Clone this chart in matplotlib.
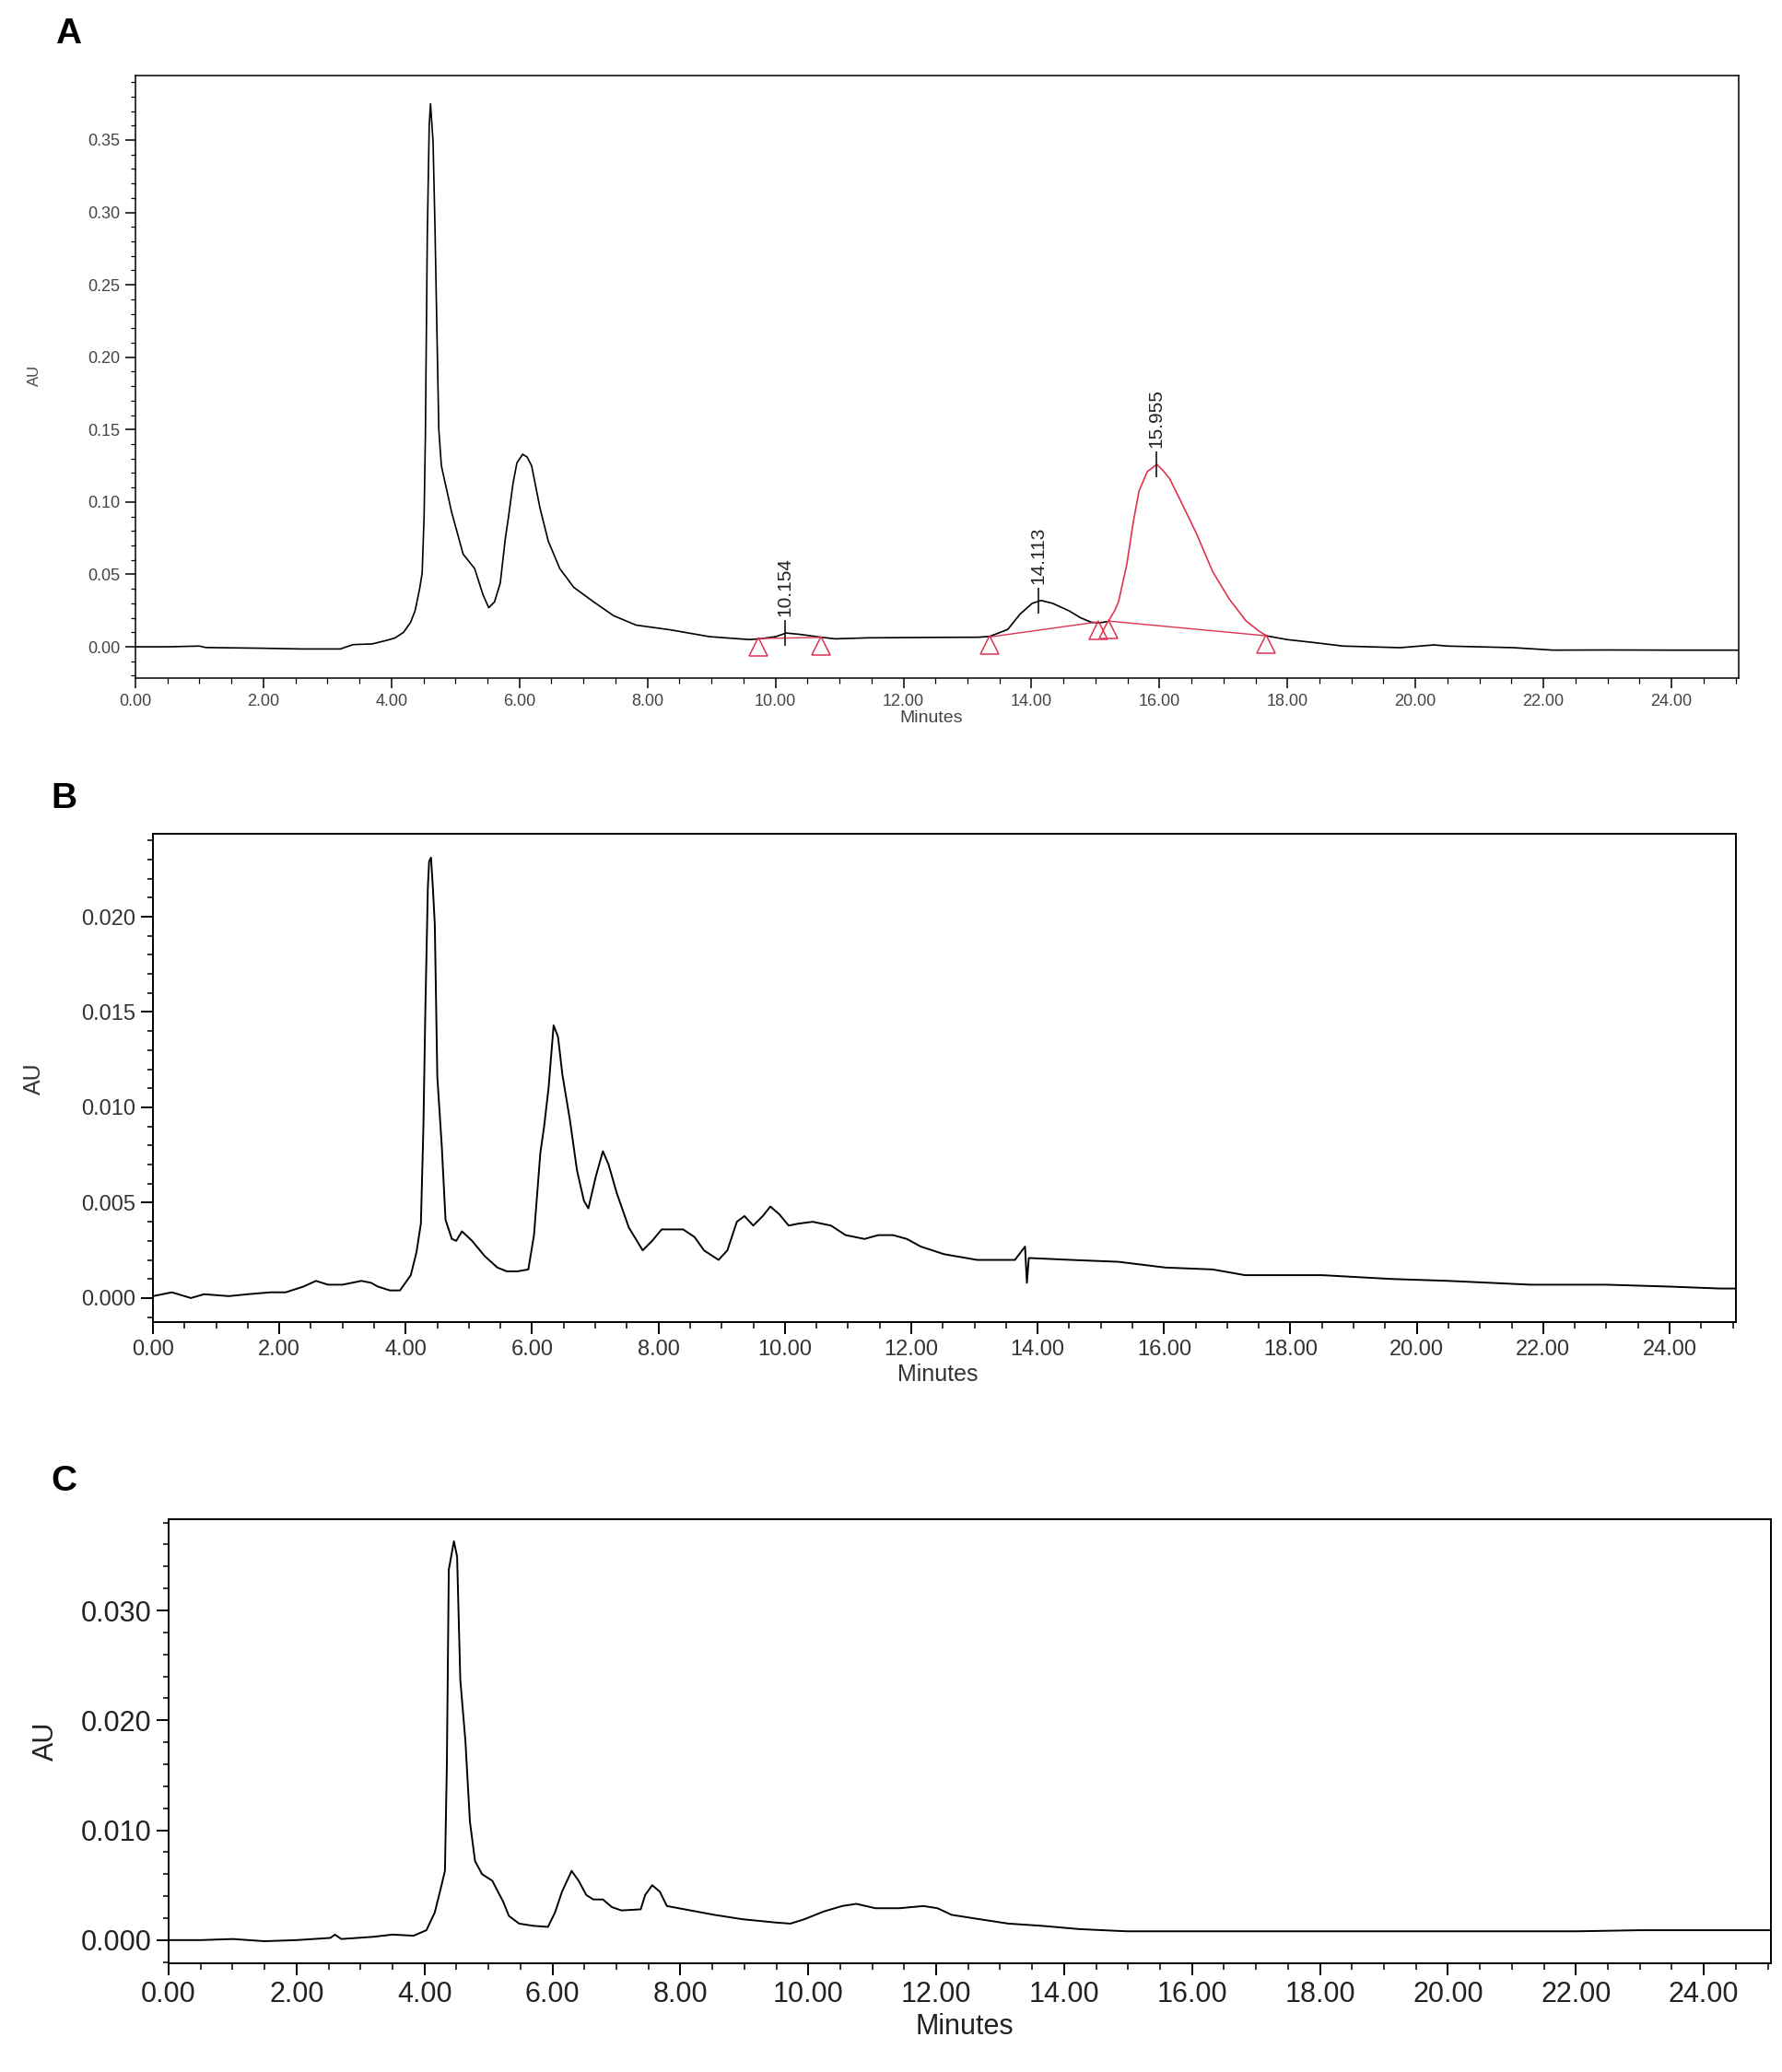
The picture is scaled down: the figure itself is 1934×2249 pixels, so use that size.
"""
Three HPLC chromatograms (A, B, C) stacked vertically, absorbance vs time.
"""

import matplotlib
matplotlib.use("Agg")
import matplotlib.pyplot as plt
from matplotlib.ticker import MultipleLocator, FormatStrFormatter
from matplotlib.transforms import ScaledTranslation

plt.rcParams["font.family"] = ["Liberation Sans", "DejaVu Sans"]

W, H, DPI = 1934, 2249, 100
RED = "#dc3452"

# ---- panel A trace (minutes, AU) ----
a_time = [0.00, 0.50, 1.00, 1.10, 2.00, 2.60, 3.20, 3.40, 3.70, 3.93, 4.05, 4.19,
          4.30, 4.37, 4.44, 4.48, 4.51, 4.53, 4.56, 4.59, 4.61, 4.63, 4.65, 4.68,
          4.71, 4.74, 4.78, 4.81, 4.94, 5.12, 5.30, 5.43, 5.52, 5.61, 5.70, 5.78,
          5.83, 5.90, 5.96, 6.05, 6.12, 6.19, 6.32, 6.45, 6.63, 6.85, 7.16, 7.47,
          7.82, 8.36, 8.97, 9.59, 9.75, 10.00, 10.17, 10.40, 10.73, 10.93, 11.45,
          12.50, 13.17, 13.35, 13.63, 13.82, 14.01, 14.15, 14.33, 14.58, 14.77,
          14.93, 15.05, 15.20]
a_au = [0.0000, 0.0000, 0.0005, -0.0005, -0.0010, -0.0015, -0.0015, 0.0015, 0.0020,
        0.0045, 0.0060, 0.0100, 0.0170, 0.0250, 0.0400, 0.0510, 0.0900, 0.1450,
        0.2840, 0.3600, 0.3750, 0.3620, 0.3490, 0.2900, 0.2190, 0.1500, 0.1250,
        0.1190, 0.0930, 0.0640, 0.0540, 0.0360, 0.0270, 0.0310, 0.0440, 0.0750,
        0.0900, 0.1130, 0.1270, 0.1330, 0.1310, 0.1250, 0.0960, 0.0730, 0.0540,
        0.0410, 0.0310, 0.0215, 0.0150, 0.0117, 0.0070, 0.0050, 0.0055, 0.0070,
        0.0095, 0.0085, 0.0065, 0.0055, 0.0062, 0.0065, 0.0066, 0.0072, 0.0120,
        0.0225, 0.0300, 0.0320, 0.0300, 0.0250, 0.0200, 0.0170, 0.0165, 0.0175]

# integrated peak at 15.955 min (drawn in red)
a_peak_time = [15.20, 15.30, 15.36, 15.49, 15.59, 15.68, 15.81, 15.96, 16.06,
               16.16, 16.35, 16.58, 16.83, 17.09, 17.35, 17.55, 17.67]
a_peak_au = [0.0175, 0.0250, 0.0310, 0.0570, 0.0860, 0.1075, 0.1210, 0.1260,
             0.1215, 0.1160, 0.0990, 0.0780, 0.0520, 0.0330, 0.0180, 0.0110, 0.0076]

a_tail_time = [17.67, 17.99, 18.40, 18.87, 19.76, 20.29, 20.50, 21.53, 22.15,
               23.00, 24.00, 25.05]
a_tail_au = [0.0076, 0.0050, 0.0030, 0.0005, -0.0006, 0.0013, 0.0005, -0.0006,
             -0.0023, -0.0022, -0.0023, -0.0023]

# integration baselines and their start/end points
a_base1_time = [9.73, 10.71]
a_base1_au = [0.0057, 0.0065]
a_base2_time = [13.35, 15.04]
a_base2_au = [0.0068, 0.0172]
a_base3_time = [15.20, 17.67]
a_base3_au = [0.0178, 0.0076]
a_tri_time = [9.73, 10.71, 13.35, 15.04, 15.20, 17.67]
a_tri_au = [0.0057, 0.0065, 0.0068, 0.0172, 0.0178, 0.0076]

a_rt = [10.154, 14.113, 15.955]
a_rt_au = [0.0095, 0.0320, 0.1260]

# ---- panel B trace ----
b_time = [0.00, 0.30, 0.60, 0.81, 1.20, 1.50, 1.86, 2.10, 2.38, 2.58, 2.77, 3.00,
          3.30, 3.45, 3.56, 3.75, 3.91, 4.08, 4.17, 4.24, 4.28, 4.31, 4.35, 4.37,
          4.40, 4.43, 4.46, 4.50, 4.57, 4.63, 4.73, 4.80, 4.89, 5.05, 5.25, 5.45,
          5.60, 5.77, 5.94, 6.03, 6.13, 6.19, 6.26, 6.34, 6.41, 6.48, 6.60, 6.71,
          6.82, 6.89, 7.01, 7.12, 7.21, 7.34, 7.53, 7.75, 7.90, 8.05, 8.39, 8.57,
          8.72, 8.95, 9.09, 9.24, 9.36, 9.50, 9.65, 9.77, 9.91, 10.06, 10.21, 10.44,
          10.73, 10.96, 11.26, 11.48, 11.71, 11.93, 12.15, 12.52, 13.04, 13.64,
          13.80, 13.83, 13.86, 14.53, 15.28, 16.02, 16.77, 17.28, 18.50, 19.60,
          20.50, 21.80, 23.00, 24.00, 24.80, 25.05]
b_au = [0.0001, 0.0003, 0.0000, 0.0002, 0.0001, 0.0002, 0.0003, 0.0003, 0.0006,
        0.0009, 0.0007, 0.0007, 0.0009, 0.0008, 0.0006, 0.0004, 0.0004, 0.0012,
        0.0024, 0.0039, 0.0090, 0.0150, 0.0215, 0.0229, 0.0231, 0.0215, 0.0196,
        0.0116, 0.0080, 0.0041, 0.0031, 0.0030, 0.0035, 0.0030, 0.0022, 0.0016,
        0.0014, 0.0014, 0.0015, 0.0033, 0.0076, 0.0090, 0.0110, 0.0143, 0.0137,
        0.0117, 0.0093, 0.0067, 0.0051, 0.0047, 0.0064, 0.0077, 0.0070, 0.0055,
        0.0037, 0.0025, 0.0030, 0.0036, 0.0036, 0.0032, 0.0025, 0.0020, 0.0025,
        0.0040, 0.0043, 0.0038, 0.0043, 0.0048, 0.0044, 0.0038, 0.0039, 0.0040,
        0.0038, 0.0033, 0.0031, 0.0033, 0.0033, 0.0031, 0.0027, 0.0023, 0.0020,
        0.0020, 0.0027, 0.0008, 0.0021, 0.0020, 0.0019, 0.0016, 0.0015, 0.0012,
        0.0012, 0.0010, 0.0009, 0.0007, 0.0007, 0.0006, 0.0005, 0.0005]

# ---- panel C trace ----
c_time = [0.00, 0.50, 1.00, 1.50, 2.00, 2.53, 2.60, 2.70, 3.20, 3.50, 3.83, 4.03,
          4.16, 4.25, 4.32, 4.35, 4.38, 4.42, 4.46, 4.51, 4.56, 4.64, 4.71, 4.79,
          4.90, 5.06, 5.23, 5.32, 5.48, 5.70, 5.93, 6.04, 6.15, 6.30, 6.41, 6.53,
          6.64, 6.79, 6.93, 7.08, 7.38, 7.45, 7.56, 7.68, 7.79, 8.16, 8.53, 8.97,
          9.49, 9.72, 9.94, 10.24, 10.53, 10.75, 11.05, 11.42, 11.80, 12.02, 12.24,
          12.68, 13.13, 13.65, 14.24, 14.98, 16.10, 17.00, 18.00, 19.00, 20.00,
          21.00, 22.00, 23.00, 24.00, 25.05]
c_au = [0.0000, 0.0000, 0.0001, -0.0001, 0.0000, 0.0002, 0.0005, 0.0001, 0.0003,
        0.0005, 0.0004, 0.0009, 0.0025, 0.0046, 0.0063, 0.0160, 0.0337, 0.0350,
        0.0363, 0.0349, 0.0237, 0.0181, 0.0108, 0.0072, 0.0060, 0.0054, 0.0035,
        0.0022, 0.0015, 0.0013, 0.0012, 0.0025, 0.0044, 0.0063, 0.0054, 0.0041,
        0.0037, 0.0037, 0.0030, 0.0027, 0.0028, 0.0041, 0.0050, 0.0044, 0.0031,
        0.0027, 0.0023, 0.0019, 0.0016, 0.0015, 0.0019, 0.0026, 0.0031, 0.0033,
        0.0029, 0.0029, 0.0031, 0.0029, 0.0023, 0.0019, 0.0015, 0.0013, 0.0010,
        0.0008, 0.0008, 0.0008, 0.0008, 0.0008, 0.0008, 0.0008, 0.0008, 0.0009,
        0.0009, 0.0009]

XLIM = (0, 25.05)


def px_axes(left, top, right, bottom):
    """Axes rectangle from pixel edges of the figure."""
    return [left / W, 1 - bottom / H, (right - left) / W, (bottom - top) / H]


def fig_text(fig, x, y, s, **kw):
    fig.text(x / W, 1 - y / H, s, **kw)


def style_axes(ax, ylim, ymajor, yminor, yfmt, fs, spine_lw, tick_len, color):
    ax.set_xlim(*XLIM)
    ax.set_ylim(*ylim)
    ax.xaxis.set_major_locator(MultipleLocator(2))
    ax.xaxis.set_minor_locator(MultipleLocator(0.5))
    ax.xaxis.set_major_formatter(FormatStrFormatter("%.2f"))
    ax.yaxis.set_major_locator(MultipleLocator(ymajor))
    ax.yaxis.set_minor_locator(MultipleLocator(yminor))
    ax.yaxis.set_major_formatter(FormatStrFormatter(yfmt))
    for sp in ax.spines.values():
        sp.set_linewidth(spine_lw)
    ax.tick_params(which="major", direction="out", length=tick_len * 0.72,
                   width=spine_lw, labelsize=fs, labelcolor=color, pad=4)
    ax.tick_params(which="minor", direction="out", length=tick_len * 0.36,
                   width=spine_lw * 0.8)


fig = plt.figure(figsize=(W / DPI, H / DPI), dpi=DPI)

# ---------- A ----------
ax_a = fig.add_axes(px_axes(147, 82, 1887, 736))
ax_a.plot(a_time, a_au, color="black", lw=1.2)
ax_a.plot(a_peak_time, a_peak_au, color=RED, lw=1.2)
ax_a.plot(a_tail_time, a_tail_au, color="black", lw=1.2)
for bt, bv in [(a_base1_time, a_base1_au), (a_base2_time, a_base2_au),
               (a_base3_time, a_base3_au)]:
    ax_a.plot(bt, bv, color=RED, lw=1.0)
tri_shift = ax_a.transData + ScaledTranslation(0, -9 / DPI, fig.dpi_scale_trans)
ax_a.plot(a_tri_time, a_tri_au, ls="none", marker="^", ms=15, mfc="none",
          mec=RED, mew=1.1, transform=tri_shift)
ax_a.plot(a_rt, a_rt_au, ls="none", marker="|", ms=20, mew=1.1, color="black")
for rt, v in zip(a_rt, a_rt_au):
    ax_a.annotate(f"{rt:.3f}", (rt, v), xytext=(0, 13), textcoords="offset points",
                  rotation=90, ha="center", va="bottom", fontsize=15, color="#222222")
style_axes(ax_a, (-0.0216, 0.3945), 0.05, 0.01, "%.2f", 13, 1.1, 11, "#444444")
fig_text(fig, 37, 407, "AU", rotation=90, ha="center", va="center",
         fontsize=12, color="#444444")
fig_text(fig, 1011, 780, "Minutes", ha="center", va="center", fontsize=14,
         color="#444444")
fig_text(fig, 74, 37, "A", ha="center", va="center", fontsize=28,
         fontweight="bold")

# ---------- B ----------
ax_b = fig.add_axes(px_axes(166, 905, 1884, 1435))
ax_b.plot(b_time, b_au, color="black", lw=1.4)
style_axes(ax_b, (-0.00126, 0.02435), 0.005, 0.001, "%.3f", 17, 1.4, 13, "#333333")
fig_text(fig, 37, 1171, "AU", rotation=90, ha="center", va="center",
         fontsize=18, color="#333333")
fig_text(fig, 1018, 1492, "Minutes", ha="center", va="center", fontsize=18,
         color="#333333")
fig_text(fig, 69, 867, "B", ha="center", va="center", fontsize=28,
         fontweight="bold")

# ---------- C ----------
ax_c = fig.add_axes(px_axes(183, 1649, 1922, 2131))
ax_c.plot(c_time, c_au, color="black", lw=1.4)
style_axes(ax_c, (-0.00211, 0.0383), 0.010, 0.002, "%.3f", 22, 1.4, 13, "#222222")
fig_text(fig, 50, 1890, "AU", rotation=90, ha="center", va="center",
         fontsize=22, color="#222222")
fig_text(fig, 1047, 2200, "Minutes", ha="center", va="center", fontsize=22,
         color="#222222")
fig_text(fig, 69, 1608, "C", ha="center", va="center", fontsize=28,
         fontweight="bold")

fig.savefig("out.png", dpi=DPI, facecolor="white")
plt.close(fig)
